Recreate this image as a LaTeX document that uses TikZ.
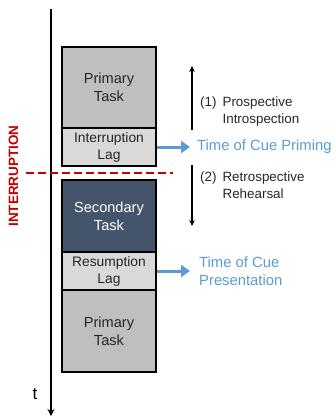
\documentclass[tikz,border=0pt]{standalone}
\usepackage{fontspec}
\setmainfont{Liberation Sans}
\usetikzlibrary{arrows.meta}
\definecolor{primgray}{HTML}{BFBFBF}
\definecolor{laggray}{HTML}{D9D9D9}
\definecolor{secblue}{HTML}{44546A}
\definecolor{cueblue}{HTML}{5B9BD5}
\definecolor{intred}{HTML}{C00000}
\definecolor{txtdark}{HTML}{262626}
\tikzset{
	taskbox/.style={draw=black, line width=2pt, minimum width=94pt, inner sep=0pt,
		align=center, text=txtdark, font=\fontsize{14.6}{18}\selectfont},
	lagbox/.style={taskbox, fill=laggray, minimum height=38pt, font=\fontsize{13.8}{17}\selectfont},
	cuearrow/.style={draw=cueblue, line width=3pt, -{Triangle[length=9pt,width=12pt]}},
	cuetext/.style={anchor=west, text=cueblue, align=left, inner sep=0pt, font=\fontsize{14.8}{18}\selectfont},
	phasearrow/.style={line width=1.3pt, -{Stealth[length=6pt,width=5.5pt]}},
	phasetext/.style={anchor=west, text=txtdark, inner sep=0pt, font=\fontsize{13.4}{17}\selectfont}
}
\begin{document}
\begin{tikzpicture}[x=1pt, y=-1pt]
	\useasboundingbox (0,0) rectangle (335,417);
	% time axis
	\path (51,9) coordinate (ttop) (51,416) coordinate (tbot);
	\draw[line width=2.5pt, -{Stealth[length=7pt,width=7pt]}] (ttop) -- (tbot);
	\node[font=\fontsize{17}{20}\selectfont] (tlab) at (35,394) {t};
	% task blocks
	\node[taskbox, fill=primgray, minimum height=81pt] (prim1) at (109,87.5) {Primary\\Task};
	\node[lagbox] (intlag) at (109,147) {Interruption\\Lag};
	\node[taskbox, fill=secblue, minimum height=72pt, text=white] (sec) at (109,216) {Secondary\\Task};
	\node[lagbox] (reslag) at (109,271) {Resumption\\Lag};
	\node[taskbox, fill=primgray, minimum height=82pt] (prim2) at (109,331) {Primary\\Task};
	% interruption marker
	\path (26,172.5) coordinate (dashL) (173,172.5) coordinate (dashR);
	\draw[intred, line width=2pt, dash pattern=on 8pt off 4pt] (dashL) -- (dashR);
	\node[rotate=90, text=intred, font=\bfseries\fontsize{13.5}{16}\selectfont] (intlab) at (13.5,176) {INTERRUPTION};
	% cues
	\node[cuetext] (priming) at (197,147) {Time of Cue Priming};
	\node[cuetext] (present) at (199,271) {Time of Cue\\Presentation};
	\draw[cuearrow] (intlag.east) -- ([xshift=-7pt]priming.west);
	\draw[cuearrow] (reslag.east) -- ([xshift=-9pt]present.west);
	% rehearsal phases
	\path (192,129.5) coordinate (upB) (192,66) coordinate (upT)
		(192,165) coordinate (dnT) (192,226) coordinate (dnB);
	\draw[phasearrow] (upB) -- (upT);
	\draw[phasearrow] (dnT) -- (dnB);
	\node[phasetext] (prosp) at (200,111.5) {\begin{tabular}{@{}l@{\hskip 6pt}l@{}}(1)&Prospective\\&Introspection\end{tabular}};
	\node[phasetext] (retro) at (200,186.5) {\begin{tabular}{@{}l@{\hskip 6pt}l@{}}(2)&Retrospective\\&Rehearsal\end{tabular}};
\end{tikzpicture}
\end{document}
